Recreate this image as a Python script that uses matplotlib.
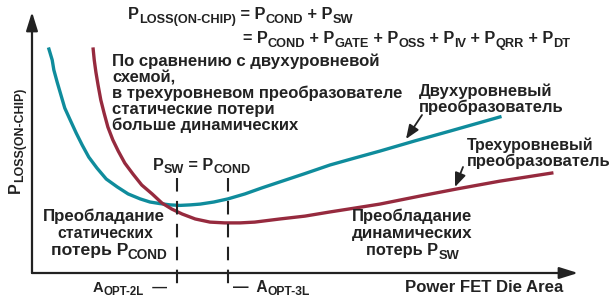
import math
import matplotlib
matplotlib.use("Agg")
import matplotlib.pyplot as plt
from matplotlib.patches import FancyArrowPatch

plt.rcParams['font.family'] = ['Liberation Sans', 'DejaVu Sans']
plt.rcParams['font.weight'] = 'bold'

# ---- data (die area vs. on-chip loss, arbitrary units) ----
two_level_area = [3.1, 3.7, 4.0, 4.6, 5.3, 6.0, 7.0, 8.1, 9.2, 10.4, 11.9, 13.6, 15.6, 17.6, 19.8,
                  21.6, 23.4, 25.3, 27.1, 29.0, 30.8, 33.3, 35.9, 39.0, 42.1, 45.4, 50.0, 54.6,
                  59.2, 63.7, 70.1, 76.6, 85.7]
two_level_loss = [85.8, 81.6, 77.8, 73.2, 68.2, 63.2, 58.6, 53.6, 49.0, 44.4, 40.2, 36.0, 33.0, 30.3, 28.4,
                  27.2, 26.6, 26.1, 25.9, 26.1, 26.4, 27.2, 28.4, 30.3, 32.6, 34.9, 38.1, 41.4,
                  44.1, 46.7, 50.6, 54.4, 59.8]
three_level_area = [11.2, 11.4, 11.7, 12.1, 12.6, 13.2, 13.9, 14.8, 15.8, 17.0, 18.5, 20.1, 22.0, 23.8,
                    25.6, 27.5, 29.9, 32.6, 35.3, 38.1, 40.8, 45.4, 50.0, 54.6, 59.2, 63.7, 71.1,
                    77.8, 85.7, 95.2]
three_level_loss = [85.8, 81.6, 77.0, 72.0, 66.3, 61.3, 55.9, 51.0, 46.7, 42.1, 37.9, 33.7, 30.3, 26.8,
                    24.5, 22.6, 20.7, 19.5, 19.2, 19.2, 19.5, 20.7, 21.8, 23.4, 24.9, 26.4, 29.5,
                    32.2, 35.2, 38.3]
opt_areas = [26.6, 35.9]

TEAL = '#0f8c9c'
MAROON = '#962a3e'
INK = '#222222'

W, H = 615, 302
fig = plt.figure(figsize=(W / 100, H / 100), dpi=100)
renderer = fig.canvas.get_renderer()


def F(px, py):
    return (px / W, 1 - py / H)


ax = fig.add_axes([32 / W, (H - 273) / H, 546 / W, 261 / H])
ax.set_xlim(0, 100)
ax.set_ylim(0, 100)
ax.axis('off')

# axes with arrows
for tip in [(0, 1.0), (1.0, 0)]:
    ax.annotate('', xy=tip, xytext=(0, 0), xycoords='axes fraction',
                arrowprops=dict(arrowstyle='-|>,head_length=0.8,head_width=0.25', lw=1.6,
                                color=INK, shrinkA=0, shrinkB=0, mutation_scale=14))

# curves
ax.plot(two_level_area, two_level_loss, color=TEAL, lw=2.4, solid_joinstyle='round')
ax.plot(three_level_area, three_level_loss, color=MAROON, lw=2.4, solid_joinstyle='round')

# optimum dashed lines
for a in opt_areas:
    ax.plot([a, a], [36.4, -4.8], color=INK, lw=1.5, ls=(0, (6.5, 4.5)), clip_on=False)

BASE = 12.0
SUBR = 0.78


def runs(x0, x1, y, parts, rot=0, suboff=0.3):
    """Draw text runs from x0 to x1 along the baseline y (pixel coords, y downward)."""
    widths = []
    for s, is_sub in parts:
        t = fig.text(0, 0, s, fontsize=BASE * (SUBR if is_sub else 1), fontweight='bold')
        widths.append(t.get_window_extent(renderer).width)
        t.remove()
    total = sum(widths)
    span = abs(x1 - x0)
    k = span / total
    size = BASE * k
    th = math.radians(rot)
    along = (math.cos(th), -math.sin(th))
    down = (math.sin(th), math.cos(th))
    pos = 0.0
    for (s, is_sub), w in zip(parts, widths):
        off = suboff * size * 100 / 72 * 0.72 if is_sub else 0
        px = x0 + along[0] * pos + down[0] * off
        py = y + along[1] * pos + down[1] * off
        fig.text(*F(px, py), s, fontsize=size * (SUBR if is_sub else 1), fontweight='bold', color=INK,
                 ha='left', va='baseline', rotation=rot, rotation_mode='anchor')
        pos += w * k


N = lambda s: (s, False)
S = lambda s: (s, True)

# formulas
runs(128, 353, 19, [N("P"), S("LOSS(ON-CHIP)"), N(" = P"), S("COND"), N(" + P"), S("SW")])
runs(243, 570, 43, [N("= P"), S("COND"), N(" + P"), S("GATE"), N(" + P"), S("OSS"), N(" + P"), S("IV"),
                    N(" + P"), S("QRR"), N(" + P"), S("DT")])

# paragraph
para = ["По сравнению с двухуровневой", "схемой,", "в трехуровневом преобразователе",
        "статические потери", "больше динамических"]
para_end = [378, 175, 402, 274, 298]
for i, (line, xe) in enumerate(zip(para, para_end)):
    runs(112, xe, 66 + 16 * i, [N(line)])

# series labels
runs(419, 552, 96, [N("Двухуровневый")])
runs(419, 563, 112, [N("преобразователь")])
runs(467, 593, 150, [N("Трехуровневый")])
runs(467, 610, 166, [N("преобразователь")])

# label arrows
arr = dict(arrowstyle='-|>,head_length=0.7,head_width=0.28', lw=1.3, color=INK,
           shrinkA=0, shrinkB=0, mutation_scale=12)
fig.add_artist(FancyArrowPatch(F(422, 115), F(406, 139), transform=fig.transFigure, **arr))
fig.add_artist(FancyArrowPatch(F(463, 167), F(455, 187), transform=fig.transFigure, **arr))

# P_SW = P_COND
runs(153, 250, 170, [N("P"), S("SW"), N(" = P"), S("COND")])

# regions
runs(43, 165, 221, [N("Преобладание")])
runs(57, 152, 238, [N("статических")])
runs(51, 168, 255, [N("потерь P"), S("COND")])
runs(352, 472, 221, [N("Преобладание")])
runs(352, 472, 238, [N("динамических")])
runs(366, 459, 255, [N("потерь P"), S("SW")])

# optimum labels
runs(93, 167, 292, [N("A"), S("OPT-2L"), N("  —")])
runs(233, 310, 292, [N("—  A"), S("OPT-3L")])

# axis labels
runs(405, 563, 292, [N("Power FET Die Area")])
runs(20, 20, 193, [N("P"), S("LOSS(ON-CHIP)")], rot=90) if False else None
# rotated y label: along direction is upward (y decreasing)
def yrun(x, y0, y1, parts):
    widths = []
    for s, is_sub in parts:
        t = fig.text(0, 0, s, fontsize=BASE * (SUBR if is_sub else 1), fontweight='bold')
        widths.append(t.get_window_extent(renderer).width)
        t.remove()
    k = abs(y1 - y0) / sum(widths)
    size = BASE * k
    pos = 0.0
    for (s, is_sub), w in zip(parts, widths):
        off = 0.3 * size * 100 / 72 * 0.72 if is_sub else 0
        fig.text(*F(x + off, y0 - pos), s, fontsize=size * (SUBR if is_sub else 1), fontweight='bold',
                 color=INK, ha='left', va='baseline', rotation=90, rotation_mode='anchor')
        pos += w * k

yrun(20, 193, 88, [N("P"), S("LOSS(ON-CHIP)")])

fig.savefig('out.png', dpi=100)
